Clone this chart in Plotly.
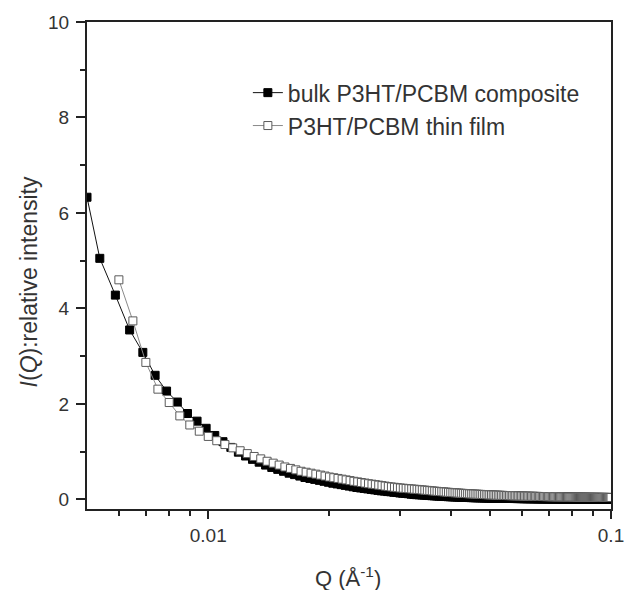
import plotly.graph_objects as go

# ---- data ----
bulk_q = [
    0.00500, 0.00538, 0.00588, 0.00638, 0.00688, 0.00738, 0.00788, 0.00838, 0.00888, 0.00938,
    0.00988, 0.01038, 0.01088, 0.01138, 0.01188, 0.01238, 0.01288, 0.01338, 0.01388, 0.01438,
    0.01488, 0.01538, 0.01588, 0.01638, 0.01688, 0.01738, 0.01788, 0.01838, 0.01888, 0.01938,
    0.01988, 0.02038, 0.02088, 0.02138, 0.02188, 0.02238, 0.02288, 0.02338, 0.02388, 0.02438,
    0.02488, 0.02538, 0.02588, 0.02638, 0.02688, 0.02738, 0.02788, 0.02838, 0.02888, 0.02938,
    0.02988, 0.03038, 0.03088, 0.03138, 0.03188, 0.03238, 0.03288, 0.03338, 0.03388, 0.03438,
    0.03488, 0.03538, 0.03588, 0.03638, 0.03688, 0.03738, 0.03788, 0.03838, 0.03888, 0.03938,
    0.03988, 0.04038, 0.04088, 0.04138, 0.04188, 0.04238, 0.04288, 0.04338, 0.04388, 0.04438,
    0.04488, 0.04538, 0.04588, 0.04638, 0.04688, 0.04738, 0.04788, 0.04838, 0.04888, 0.04938,
    0.04988, 0.05038, 0.05088, 0.05138, 0.05188, 0.05238, 0.05288, 0.05338, 0.05388, 0.05438,
    0.05488, 0.05538, 0.05588, 0.05638, 0.05688, 0.05738, 0.05788, 0.05838, 0.05888, 0.05938,
    0.05988, 0.06038, 0.06088, 0.06138, 0.06188, 0.06238, 0.06288, 0.06338, 0.06388, 0.06438,
    0.06488, 0.06538, 0.06588, 0.06638, 0.06688, 0.06738, 0.06788, 0.06838, 0.06888, 0.06938,
    0.06988, 0.07038, 0.07088, 0.07138, 0.07188, 0.07238, 0.07288, 0.07338, 0.07388, 0.07438,
    0.07488, 0.07538, 0.07588, 0.07638, 0.07688, 0.07738, 0.07788, 0.07838, 0.07888, 0.07938,
    0.07988, 0.08038, 0.08088, 0.08138, 0.08188, 0.08238, 0.08288, 0.08338, 0.08388, 0.08438,
    0.08488, 0.08538, 0.08588, 0.08638, 0.08688, 0.08738, 0.08788, 0.08838, 0.08888, 0.08938,
    0.08988, 0.09038, 0.09088, 0.09138, 0.09188, 0.09238, 0.09288, 0.09338, 0.09388, 0.09438,
    0.09488, 0.09538, 0.09588, 0.09638, 0.09688, 0.09738, 0.09788, 0.09838, 0.09888, 0.09938,
    0.09988,
]
bulk_i = [
    6.33, 5.05, 4.28, 3.55, 3.08, 2.60, 2.27, 2.04, 1.80, 1.64,
    1.49, 1.34, 1.21, 1.09, 0.99, 0.91, 0.84, 0.78, 0.72, 0.67,
    0.63, 0.59, 0.55, 0.52, 0.49, 0.46, 0.44, 0.42, 0.40, 0.38,
    0.36, 0.34, 0.325, 0.31, 0.295, 0.28, 0.265, 0.25, 0.24, 0.23,
    0.22, 0.21, 0.20, 0.19, 0.18, 0.175, 0.165, 0.16, 0.15, 0.145,
    0.135, 0.13, 0.125, 0.12, 0.11, 0.105, 0.10, 0.097, 0.093, 0.09,
    0.086, 0.082, 0.078, 0.075, 0.072, 0.069, 0.066, 0.063, 0.061, 0.058,
    0.056, 0.054, 0.052, 0.05, 0.048, 0.046, 0.044, 0.043, 0.041, 0.04,
    0.038, 0.037, 0.036, 0.035, 0.034, 0.033, 0.032, 0.031, 0.030, 0.029,
    0.028, 0.027, 0.027, 0.026, 0.025, 0.025, 0.024, 0.023, 0.023, 0.022,
    0.022, 0.021, 0.021, 0.020, 0.020, 0.019, 0.019, 0.018, 0.018, 0.018,
    0.017, 0.017, 0.016, 0.016, 0.016, 0.015, 0.015, 0.015, 0.014, 0.014,
    0.014, 0.013, 0.013, 0.013, 0.013, 0.012, 0.012, 0.012, 0.012, 0.011,
    0.011, 0.011, 0.011, 0.011, 0.010, 0.010, 0.010, 0.010, 0.010, 0.010,
    0.009, 0.009, 0.009, 0.009, 0.009, 0.009, 0.009, 0.009, 0.009, 0.009,
    0.009, 0.009, 0.009, 0.008, 0.008, 0.008, 0.008, 0.008, 0.008, 0.008,
    0.008, 0.008, 0.007, 0.007, 0.007, 0.007, 0.007, 0.007, 0.007, 0.007,
    0.007, 0.007, 0.007, 0.006, 0.006, 0.006, 0.006, 0.006, 0.006, 0.006,
    0.006, 0.006, 0.006, 0.006, 0.006, 0.006, 0.006, 0.006, 0.006, 0.006,
    0.006,
]

film_q = [
    0.0060, 0.0065, 0.0070, 0.0075, 0.0080, 0.0085, 0.0090, 0.0095, 0.0100, 0.0105,
    0.0110, 0.0115, 0.0120, 0.0125, 0.0130, 0.0135, 0.0140, 0.0145, 0.0150, 0.0155,
    0.0160, 0.0165, 0.0170, 0.0175, 0.0180, 0.0185, 0.0190, 0.0195, 0.0200, 0.0205,
    0.0210, 0.0215, 0.0220, 0.0225, 0.0230, 0.0235, 0.0240, 0.0245, 0.0250, 0.0255,
    0.0260, 0.0265, 0.0270, 0.0275, 0.0280, 0.0285, 0.0290, 0.0295, 0.0300, 0.0305,
    0.0310, 0.0315, 0.0320, 0.0325, 0.0330, 0.0335, 0.0340, 0.0345, 0.0350, 0.0355,
    0.0360, 0.0365, 0.0370, 0.0375, 0.0380, 0.0385, 0.0390, 0.0395, 0.0400, 0.0405,
    0.0410, 0.0415, 0.0420, 0.0425, 0.0430, 0.0435, 0.0440, 0.0445, 0.0450, 0.0455,
    0.0460, 0.0465, 0.0470, 0.0475, 0.0480, 0.0485, 0.0490, 0.0495, 0.0500, 0.0505,
    0.0510, 0.0515, 0.0520, 0.0525, 0.0530, 0.0535, 0.0540, 0.0545, 0.0550, 0.0555,
    0.0560, 0.0565, 0.0570, 0.0575, 0.0580, 0.0585, 0.0590, 0.0595, 0.0600, 0.0605,
    0.0610, 0.0615, 0.0620, 0.0625, 0.0630, 0.0635, 0.0640, 0.0645, 0.0650, 0.0655,
    0.0660, 0.0665, 0.0670, 0.0675, 0.0680, 0.0685, 0.0690, 0.0695, 0.0700, 0.0705,
    0.0710, 0.0715, 0.0720, 0.0725, 0.0730, 0.0735, 0.0740, 0.0745, 0.0750, 0.0755,
    0.0760, 0.0765, 0.0770, 0.0775, 0.0780, 0.0785, 0.0790, 0.0795, 0.0800, 0.0805,
    0.0810, 0.0815, 0.0820, 0.0825, 0.0830, 0.0835, 0.0840, 0.0845, 0.0850, 0.0855,
    0.0860, 0.0865, 0.0870, 0.0875, 0.0880, 0.0885, 0.0890, 0.0895, 0.0900, 0.0905,
    0.0910, 0.0915, 0.0920, 0.0925, 0.0930, 0.0935, 0.0940, 0.0945, 0.0950, 0.0955,
    0.0960, 0.0965, 0.0970, 0.0975, 0.0980, 0.0985, 0.0990, 0.0995, 0.1000,
]
film_i = [
    4.60, 3.74, 2.87, 2.31, 2.03, 1.75, 1.56, 1.43, 1.32, 1.23,
    1.15, 1.08, 1.02, 0.96, 0.90, 0.85, 0.80, 0.76, 0.72, 0.68,
    0.65, 0.62, 0.59, 0.57, 0.55, 0.53, 0.51, 0.49, 0.47, 0.455,
    0.44, 0.425, 0.41, 0.395, 0.38, 0.368, 0.355, 0.343, 0.33, 0.32,
    0.31, 0.30, 0.29, 0.28, 0.27, 0.262, 0.255, 0.247, 0.24, 0.235,
    0.23, 0.225, 0.22, 0.215, 0.21, 0.205, 0.20, 0.195, 0.19, 0.185,
    0.18, 0.175, 0.17, 0.166, 0.162, 0.158, 0.154, 0.15, 0.146, 0.142,
    0.139, 0.136, 0.133, 0.13, 0.127, 0.124, 0.121, 0.118, 0.116, 0.114,
    0.112, 0.110, 0.108, 0.106, 0.104, 0.102, 0.100, 0.098, 0.096, 0.095,
    0.093, 0.092, 0.090, 0.089, 0.087, 0.086, 0.085, 0.083, 0.082, 0.081,
    0.080, 0.079, 0.078, 0.077, 0.076, 0.075, 0.074, 0.073, 0.072, 0.071,
    0.070, 0.069, 0.069, 0.068, 0.067, 0.066, 0.066, 0.065, 0.064, 0.064,
    0.063, 0.062, 0.062, 0.061, 0.061, 0.060, 0.060, 0.059, 0.059, 0.058,
    0.058, 0.057, 0.057, 0.056, 0.056, 0.055, 0.055, 0.055, 0.054, 0.054,
    0.053, 0.053, 0.053, 0.052, 0.052, 0.052, 0.051, 0.051, 0.051, 0.050,
    0.050, 0.050, 0.049, 0.049, 0.049, 0.048, 0.048, 0.048, 0.048, 0.047,
    0.047, 0.047, 0.047, 0.046, 0.046, 0.046, 0.046, 0.045, 0.045, 0.045,
    0.045, 0.045, 0.044, 0.044, 0.044, 0.044, 0.044, 0.043, 0.043, 0.043,
    0.043, 0.043, 0.042, 0.042, 0.042, 0.042, 0.042, 0.041, 0.041,
]

x_major_vals = [0.01, 0.1]
x_major_text = ["0.01", "0.1"]
x_minor_vals = [0.006, 0.007, 0.008, 0.009, 0.02, 0.03, 0.04, 0.05, 0.06, 0.07, 0.08, 0.09]
y_major_vals = [0, 2, 4, 6, 8, 10]
y_minor_vals = [1, 3, 5, 7, 9]

FONT = "Arial, Liberation Sans, sans-serif"
TXT = "#333333"
AX = "#222222"

fig = go.Figure()
fig.add_trace(go.Scatter(
    x=bulk_q, y=bulk_i, mode="lines+markers", name="bulk P3HT/PCBM composite",
    line=dict(color="#111111", width=1),
    marker=dict(symbol="square", size=8, color="#000000", line=dict(color="#000000", width=1)),
))
fig.add_trace(go.Scatter(
    x=film_q, y=film_i, mode="lines+markers", name="P3HT/PCBM thin film",
    line=dict(color="#8a8a8a", width=1),
    marker=dict(symbol="square", size=8, color="#ffffff", line=dict(color="#5a5a5a", width=1)),
))

fig.update_layout(
    width=624, height=590,
    margin=dict(l=87, r=13, t=22, b=81, autoexpand=False),
    paper_bgcolor="white", plot_bgcolor="white",
    font=dict(family=FONT, color=TXT),
    showlegend=True,
    legend=dict(x=0.307, y=0.899, xanchor="left", yanchor="top",
                bgcolor="rgba(0,0,0,0)", font=dict(size=23, color=TXT),
                tracegroupgap=0),
    annotations=[
        dict(text="<i>I</i>(<i>Q</i>):relative intensity", textangle=-90,
             xref="paper", yref="paper", x=-0.11, y=0.466,
             xanchor="center", yanchor="middle", showarrow=False,
             font=dict(size=23, color=TXT)),
        dict(text="Q (Å<sup>-1</sup>)",
             xref="paper", yref="paper", x=0.498, y=-0.14,
             xanchor="center", yanchor="middle", showarrow=False,
             font=dict(size=22, color=TXT)),
    ],
)

fig.update_xaxes(
    type="log", range=[-2.30103, -1.0], automargin=False,
    showline=True, linecolor=AX, linewidth=2, mirror=True,
    showgrid=False, zeroline=False,
    tickmode="array", tickvals=x_major_vals, ticktext=x_major_text,
    ticks="outside", ticklen=8, tickwidth=1.5, tickcolor=AX,
    ticklabelstandoff=0, ticklabeloverflow="allow",
    tickfont=dict(size=19, color=TXT),
    minor=dict(tickmode="array", tickvals=x_minor_vals, ticks="outside",
               ticklen=5, tickwidth=1.5, tickcolor=AX, showgrid=False),
)
fig.update_yaxes(
    range=[-0.2, 10], automargin=False,
    showline=True, linecolor=AX, linewidth=2, mirror=True,
    showgrid=False, zeroline=False,
    tickmode="array", tickvals=y_major_vals,
    ticks="outside", ticklen=9, tickwidth=1.5, tickcolor=AX,
    ticklabelstandoff=3, ticklabeloverflow="allow",
    tickfont=dict(size=19, color=TXT),
    minor=dict(tickmode="array", tickvals=y_minor_vals, ticks="outside",
               ticklen=5, tickwidth=1.5, tickcolor=AX, showgrid=False),
)

# remove the browser's default 8 px body margin so the 624x590 figure fills the window
fig.write_html("out.html", config={"displayModeBar": False},
               post_script="document.body.style.margin='0px';")
